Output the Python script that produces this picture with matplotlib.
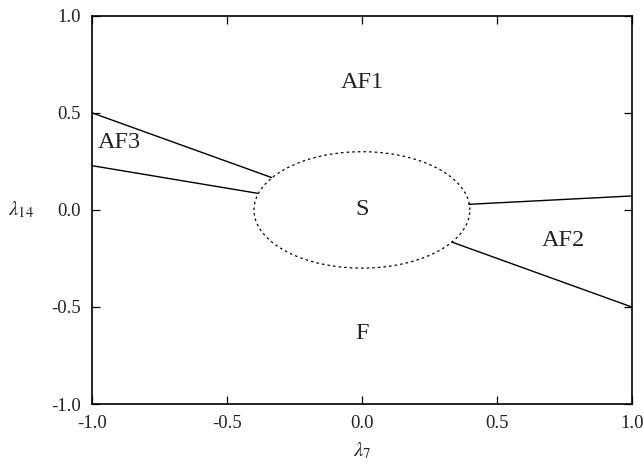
import numpy as np
import matplotlib
matplotlib.use("Agg")
import matplotlib.pyplot as plt

plt.rcParams['font.family'] = ['Liberation Serif', 'DejaVu Serif']
plt.rcParams['mathtext.fontset'] = 'stix'

# phase boundaries (lambda_7, lambda_14)
af3_upper_x = [-1.0, -0.335]
af3_upper_y = [0.5, 0.167]
af3_lower_x = [-1.0, -0.388]
af3_lower_y = [0.228, 0.086]
af2_upper_x = [0.397, 1.0]
af2_upper_y = [0.029, 0.072]
af2_lower_x = [0.334, 1.0]
af2_lower_y = [-0.166, -0.5]

# S region boundary (ellipse)
s_center = (0.0, 0.0)
s_a = 0.4
s_b = 0.3

labels = ["AF1", "AF3", "S", "AF2", "F"]
label_x = [0.0, -0.90, 0.0, 0.745, 0.0]
label_y = [0.655, 0.345, 0.0, -0.155, -0.635]

ticks = [-1.0, -0.5, 0.0, 0.5, 1.0]
tick_labels = ["-1.0", "-0.5", "0.0", "0.5", "1.0"]

fig = plt.figure(figsize=(6.44, 4.66), dpi=100)
ax = fig.add_axes([0.143, 0.133, 0.838, 0.833])

for xs, ys in [(af3_upper_x, af3_upper_y), (af3_lower_x, af3_lower_y),
               (af2_upper_x, af2_upper_y), (af2_lower_x, af2_lower_y)]:
    ax.plot(xs, ys, color='black', lw=1.0)

t = np.linspace(0, 2 * np.pi, 400)
ax.plot(s_center[0] + s_a * np.cos(t), s_center[1] + s_b * np.sin(t),
        color='black', lw=0.9, ls=(0, (2, 2.5)))

for lab, x, y in zip(labels, label_x, label_y):
    ax.text(x, y, lab, ha='center', va='center', fontsize=17.5, color='#222222')

ax.set_xlim(-1, 1)
ax.set_ylim(-1, 1)
ax.set_xticks(ticks)
ax.set_xticklabels(tick_labels)
ax.set_yticks(ticks)
ax.set_yticklabels(tick_labels)
ax.tick_params(direction='in', length=6, width=0.9, labelsize=13.5,
               labelcolor='#222222', top=True, right=True, pad=8)
for s in ax.spines.values():
    s.set_linewidth(1.2)

ax.set_xlabel(r'$\lambda_7$', fontsize=15, labelpad=6, color='#222222')
ax.set_ylabel(r'$\lambda_{14}$', fontsize=15, rotation=0, labelpad=22,
              va='center', color='#222222')

fig.savefig('out.png', dpi=100)
